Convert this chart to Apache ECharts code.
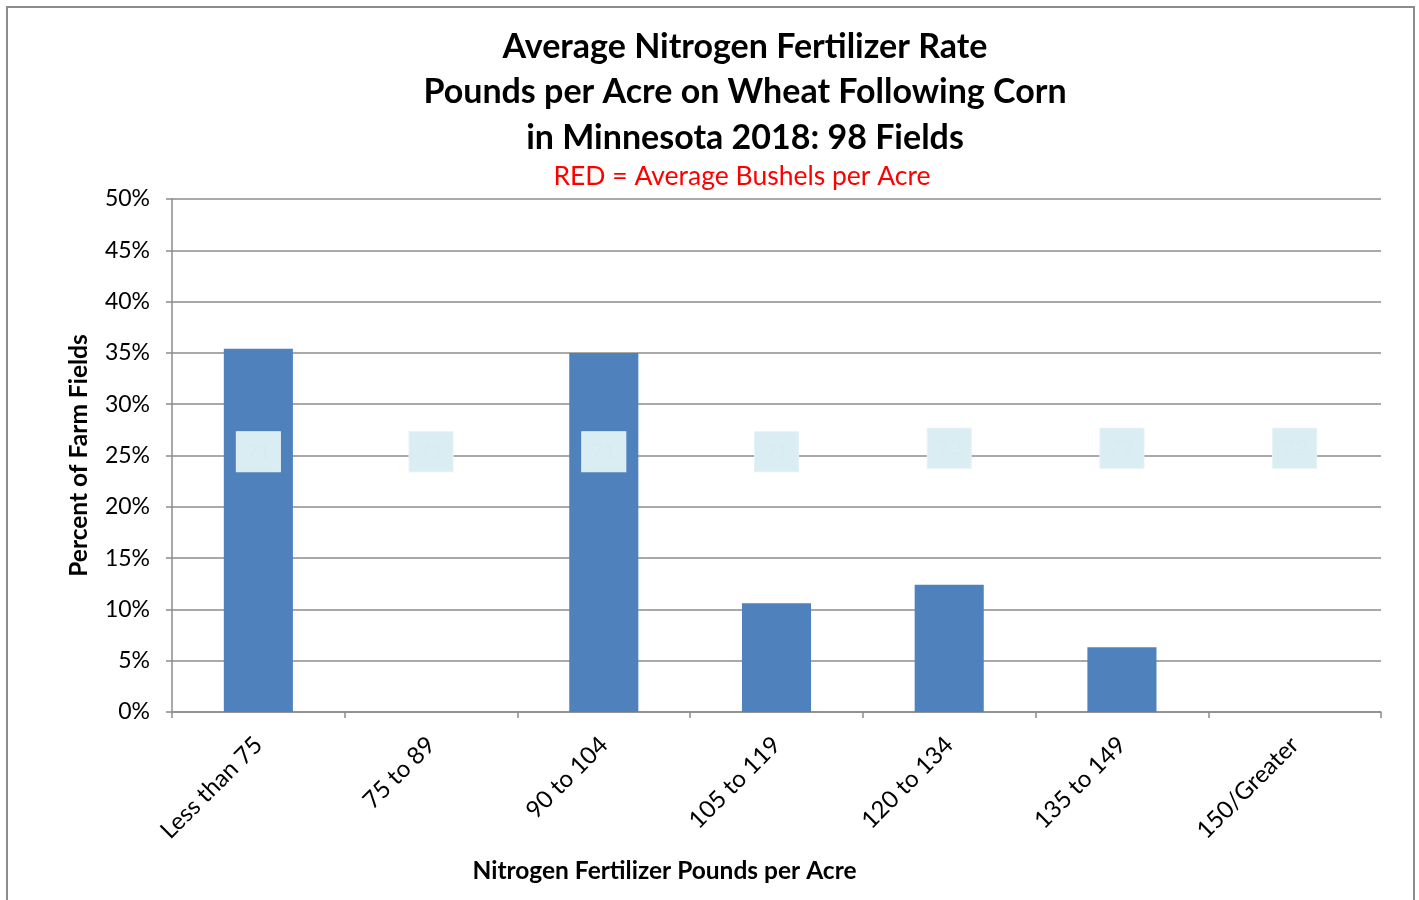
<!DOCTYPE html>
<html>
<head>
<meta charset="utf-8">
<script src="https://cdn.jsdelivr.net/npm/echarts@6/dist/echarts.min.js"></script>
<style>
  html, body { margin: 0; padding: 0; background: #fff; }
  #chart { width: 1419px; height: 900px; }
</style>
</head>
<body>
<div id="chart"></div>
<script>
// Nitrogen rate classes (lbs per acre)
const categories = ['Less than 75', '75 to 89', '90 to 104', '105 to 119', '120 to 134', '135 to 149', '150/Greater'];
// Percent of farm fields in each class
const fieldPercent = [35.4, 0, 35.0, 10.6, 12.4, 6.3, 0];
// Average bushels per acre (labels are washed out in the picture, values estimated)
const avgBushels = [71, 71, 71, 71, 72, 72, 72];
const yTicks = [0, 5, 10, 15, 20, 25, 30, 35, 40, 45, 50];

const font = 'Lato, "Open Sans", sans-serif';

const chart = echarts.init(document.getElementById('chart'));

const option = {
    animation: false,
    backgroundColor: '#fff',
    title: [
        {
            text: 'Average Nitrogen Fertilizer Rate\nPounds per Acre on Wheat Following Corn\nin Minnesota 2018: 98 Fields',
            left: 740,
            top: 19,
            textAlign: 'center',
            textStyle: { fontFamily: font, fontSize: 34, fontWeight: 'bold', color: '#000', lineHeight: 45.5 }
        },
        {
            text: 'RED = Average Bushels per Acre',
            left: 737,
            top: 158,
            textAlign: 'center',
            textStyle: { fontFamily: font, fontSize: 26.5, fontWeight: 'normal', color: '#ff0000' }
        }
    ],
    graphic: [
        {
            type: 'rect',
            shape: { x: 7, y: 7, width: 1407, height: 900 },
            style: { fill: 'none', stroke: '#8c8c8c', lineWidth: 2 },
            silent: true
        }
    ],
    grid: { left: 172, right: 38, top: 199, bottom: 188 },
    xAxis: {
        type: 'category',
        data: categories,
        name: 'Nitrogen Fertilizer Pounds per Acre',
        nameLocation: 'middle',
        nameGap: 147,
        nameTextStyle: { fontFamily: font, fontSize: 24.5, fontWeight: 'bold', color: '#000', padding: [0, 224, 0, 0] },
        axisLine: { lineStyle: { color: '#8c8c8c', width: 1.5 } },
        axisTick: { show: true, alignWithLabel: false, length: 6, lineStyle: { color: '#8c8c8c', width: 1.5 } },
        axisLabel: { rotate: 45, margin: 29, fontFamily: font, fontSize: 24, color: '#000' }
    },
    yAxis: [
        {
            type: 'value',
            min: 0,
            max: 50,
            interval: 5,
            name: 'Percent of Farm Fields',
            nameLocation: 'middle',
            nameGap: 80,
            nameTextStyle: { fontFamily: font, fontSize: 24.5, fontWeight: 'bold', color: '#000' },
            axisLine: { show: true, lineStyle: { color: '#8c8c8c', width: 1.5 } },
            axisTick: { show: true, length: 6, lineStyle: { color: '#8c8c8c', width: 1.5 } },
            splitLine: { lineStyle: { color: '#8c8c8c', width: 1.5 } },
            axisLabel: {
                margin: 22,
                fontFamily: font,
                fontSize: 23,
                color: '#000',
                formatter: v => yTicks.includes(v) ? v + '%' : ''
            }
        },
        {
            type: 'value',
            min: 0,
            max: 140,
            interval: 14,
            alignTicks: false,
            show: false
        }
    ],
    series: [
        {
            name: 'Percent of Farm Fields',
            type: 'bar',
            data: fieldPercent,
            barWidth: '40%',
            itemStyle: { color: '#4f81bd' }
        },
        {
            name: 'Average Bushels per Acre',
            type: 'scatter',
            yAxisIndex: 1,
            data: avgBushels,
            symbol: 'rect',
            symbolSize: [44, 40],
            itemStyle: { color: '#daedf3', borderColor: '#e4f2f7', borderWidth: 1, opacity: 1 },
            label: {
                show: true,
                position: 'inside',
                fontFamily: font,
                fontSize: 22,
                color: '#d7ebf1'
            },
            z: 5
        }
    ]
};

chart.setOption(option);
</script>
</body>
</html>
